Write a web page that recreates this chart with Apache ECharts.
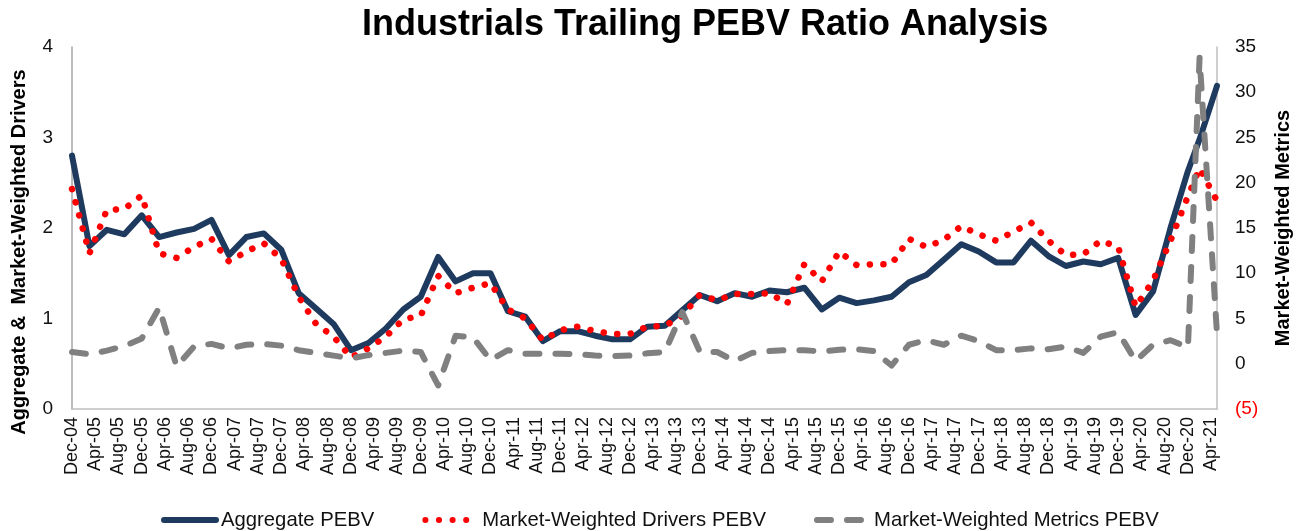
<!DOCTYPE html>
<html><head><meta charset="utf-8">
<script src="https://cdn.jsdelivr.net/npm/echarts@6/dist/echarts.min.js"></script>
<style>html,body{margin:0;padding:0;background:#fff}#c{width:1301px;height:531px}</style>
</head><body><div id="c"></div>
<script>
const tickLabels = ['Dec-04','Apr-05','Aug-05','Dec-05','Apr-06','Aug-06','Dec-06','Apr-07','Aug-07','Dec-07',
  'Apr-08','Aug-08','Dec-08','Apr-09','Aug-09','Dec-09','Apr-10','Aug-10','Dec-10','Apr-11',
  'Aug-11','Dec-11','Apr-12','Aug-12','Dec-12','Apr-13','Aug-13','Dec-13','Apr-14','Aug-14',
  'Dec-14','Apr-15','Aug-15','Dec-15','Apr-16','Aug-16','Dec-16','Apr-17','Aug-17','Dec-17',
  'Apr-18','Aug-18','Dec-18','Apr-19','Aug-19','Dec-19','Apr-20','Aug-20','Dec-20','Apr-21'];
// months since Dec-04 for each observation
const months = [0,3,6,9,12,15,18,21,24,27,30,33,36,39,42,45,48,51,54,57,60,63,66,69,72,75,78,81,84,87,
  90,93,96,99,102,105,108,111,114,117,120,123,126,129,132,135,138,141,144,147,150,153,156,159,162,165,
  168,171,174,177,180,183,186,189,192,194,197];
const aggregate = [2.80,1.80,1.98,1.93,2.14,1.90,1.95,1.99,2.09,1.70,
  1.90,1.94,1.76,1.28,1.11,0.94,0.65,0.73,0.89,1.10,
  1.24,1.68,1.41,1.50,1.50,1.08,1.02,0.75,0.86,0.86,
  0.81,0.77,0.77,0.91,0.92,1.09,1.26,1.19,1.28,1.24,
  1.31,1.29,1.34,1.10,1.23,1.17,1.20,1.24,1.40,1.48,
  1.65,1.82,1.74,1.62,1.62,1.86,1.69,1.58,1.63,1.60,
  1.67,1.04,1.30,2.00,2.63,2.98,3.57];
const drivers = [2.43,1.72,2.20,2.21,2.36,1.72,1.67,1.79,1.88,1.63,
  1.74,1.83,1.66,1.24,0.94,0.80,0.57,0.67,0.80,0.99,
  1.03,1.47,1.28,1.34,1.39,1.10,1.00,0.76,0.87,0.91,
  0.86,0.83,0.83,0.91,0.92,1.03,1.26,1.20,1.27,1.27,
  1.28,1.16,1.60,1.41,1.74,1.59,1.60,1.60,1.88,1.79,
  1.87,2.02,1.93,1.86,1.96,2.06,1.86,1.70,1.71,1.86,
  1.79,1.13,1.42,1.86,2.35,2.66,2.30];
const metrics = [1.3,1.05,1.45,1.95,2.8,6.2,-0.3,1.9,2.2,1.7,
  2.1,2.2,2.0,1.5,1.2,0.9,0.6,0.95,1.2,1.45,
  1.3,-2.4,3.1,2.9,0.4,1.5,1.1,1.1,1.1,1.05,
  0.9,0.85,0.9,1.15,1.3,5.7,1.35,1.3,0.3,1.2,
  1.4,1.5,1.5,1.35,1.55,1.6,1.4,-0.2,2.1,2.6,
  2.1,3.1,2.5,1.5,1.5,1.7,1.6,1.9,1.2,3.0,
  3.5,0.3,2.1,2.6,1.8,33.8,3.3];
const seriesNames = ['Aggregate PEBV','Market-Weighted Drivers PEBV','Market-Weighted Metrics PEBV'];
const pair = arr => months.map((m, i) => [m, arr[i]]);
const FONT = '"Liberation Sans", Arial, sans-serif';
const chart = echarts.init(document.getElementById('c'));
chart.setOption({
  animation: false,
  backgroundColor: '#fff',
  title: { text: 'Industrials Trailing PEBV Ratio Analysis', left: 357, top: 2,
    textStyle: { fontFamily: FONT, fontSize: 36, fontWeight: 'bold', color: '#000' } },
  grid: { left: 72, right: 81, top: 47, bottom: 122, containLabel: false },
  legend: { data: seriesNames, left: 156, top: 505, itemWidth: 52, itemHeight: 14, itemGap: 48,
    textStyle: { fontFamily: FONT, fontSize: 20.3, color: '#111' },
    itemStyle: { opacity: 0 },
    lineStyle: { width: 6 } },
  graphic: [{ type: 'text', x: 19, y: 252, rotation: Math.PI / 2,
    style: { text: 'Aggregate &  Market-Weighted Drivers', font: 'bold 20px ' + FONT, fill: '#000',
      textAlign: 'center', textVerticalAlign: 'middle', align: 'center', verticalAlign: 'middle' } }],
  xAxis: { type: 'value', min: 0, max: 197, interval: 4,
    axisLine: { lineStyle: { color: '#bfbfbf', width: 1.5 } }, axisTick: { show: false }, splitLine: { show: false },
    axisLabel: { rotate: 90, margin: 8, fontFamily: FONT, fontSize: 18, color: '#111',
      formatter: v => (v % 4 === 0 && tickLabels[v / 4]) ? tickLabels[v / 4] : '' } },
  yAxis: [
    { type: 'value', min: 0, max: 4, interval: 1, position: 'left',
      axisLine: { show: true, lineStyle: { color: '#a6a6a6', width: 1.5 } }, axisTick: { show: false }, splitLine: { show: false },
      axisLabel: { margin: 19, fontFamily: FONT, fontSize: 19, color: '#111' } },
    { type: 'value', min: -5, max: 35, interval: 5, position: 'right',
      name: 'Market-Weighted Metrics', nameLocation: 'middle', nameGap: 56,
      nameTextStyle: { fontFamily: FONT, fontSize: 20, fontWeight: 'bold', color: '#000' },
      axisLine: { show: true, lineStyle: { color: '#bfbfbf', width: 1.5 } }, axisTick: { show: false }, splitLine: { show: false },
      axisLabel: { margin: 18, fontFamily: FONT, fontSize: 19,
        color: v => (v < 0 ? '#ff0000' : '#111'),
        formatter: v => (v < 0 ? '(' + Math.abs(v) + ')' : String(v)) } }
  ],
  series: [
    { name: seriesNames[0], type: 'line', yAxisIndex: 0, data: pair(aggregate), symbol: 'none', z: 2,
      lineStyle: { color: '#1f3a5f', width: 6, cap: 'round', join: 'round' }, itemStyle: { color: '#1f3a5f' } },
    { name: seriesNames[1], type: 'line', yAxisIndex: 0, data: pair(drivers), symbol: 'none', z: 3,
      lineStyle: { color: '#ff0000', width: 6.5, type: [0.1, 13.5], cap: 'round', join: 'round' }, itemStyle: { color: '#ff0000' } },
    { name: seriesNames[2], type: 'line', yAxisIndex: 1, data: pair(metrics), symbol: 'none', z: 4,
      lineStyle: { color: '#808080', width: 6, type: [14, 16], cap: 'round', join: 'round' }, itemStyle: { color: '#808080' } }
  ]
});
</script>
</body></html>
